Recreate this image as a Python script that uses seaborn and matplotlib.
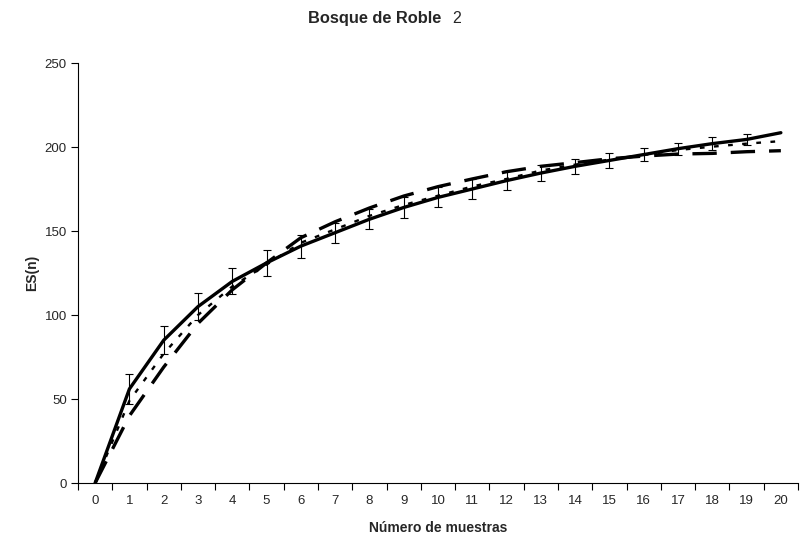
import matplotlib
matplotlib.use("Agg")
import matplotlib.pyplot as plt
import seaborn as sns
import numpy as np
import pandas as pd

# ---- data ----
muestras = list(range(0, 21))
observada = [0, 56, 85, 105, 120, 131, 141, 149, 157, 164, 170, 175, 180, 184.5,
             188.5, 192, 195.5, 199, 202, 204.5, 208.5]
error_obs = [0, 9, 8.3, 7.9, 7.7, 7.6, 6.9, 6.0, 6.1, 6.0, 6.0, 6.0, 5.8, 5.0,
             4.6, 4.5, 4.0, 3.6, 3.7, 3.3, 0]
modelo_punteado = [0, 49, 77, 100, 117, 130, 143, 151, 159, 165.5, 171, 176.5, 181,
                   186, 189.5, 192.5, 195.2, 198.2, 200.2, 202, 203.5]
modelo_discontinuo = [0, 40, 69, 95, 115, 131, 146, 155.5, 163.7, 170.8, 176.4, 181,
                      185.3, 188.5, 190.7, 193, 194.6, 195.8, 196.2, 197.2, 197.8]
y_ticks = [0, 50, 100, 150, 200, 250]

df = pd.DataFrame({"n": muestras, "obs": observada, "err": error_obs,
                   "dot": modelo_punteado, "dash": modelo_discontinuo})

sns.set_style("white")
plt.rcParams["font.family"] = ["Liberation Sans", "DejaVu Sans"]

W, H = 809, 545
fig = plt.figure(figsize=(W / 100, H / 100), dpi=100)
L, R, T, B = 78, 798, 63, 483
ax = fig.add_axes([L / W, 1 - B / H, (R - L) / W, (B - T) / H])

sns.lineplot(data=df, x="n", y="dash", ax=ax, color="black", linewidth=2.4,
             dashes=(7.3, 4.2), solid_capstyle="butt")
sns.lineplot(data=df, x="n", y="dot", ax=ax, color="black", linewidth=1.7,
             dashes=(2.0, 4.0))
sns.lineplot(data=df, x="n", y="obs", ax=ax, color="black", linewidth=2.4)

mask = df["err"] > 0
ax.errorbar(df["n"][mask], df["obs"][mask], yerr=df["err"][mask], fmt="none",
            ecolor="black", elinewidth=0.8, capsize=2.6, capthick=0.8)

ax.set_xlim(-0.5, 20.5)
ax.set_ylim(0, 250)
ax.set_yticks(y_ticks)
ax.set_xticks(muestras)
ax.set_xticks(np.arange(-0.5, 21, 1), minor=True)
ax.tick_params(axis="x", which="major", length=0, pad=9, labelsize=9.5)
ax.tick_params(axis="x", which="minor", length=5, width=0.8, direction="out",
               color="black", bottom=True)
ax.tick_params(axis="y", length=5, width=0.8, direction="out", color="black",
               left=True, labelsize=9.5, pad=3)

for s in ["top", "right"]:
    ax.spines[s].set_visible(False)
for s in ["left", "bottom"]:
    ax.spines[s].set_color("black")
    ax.spines[s].set_linewidth(0.8)

ax.set_xlabel("Número de muestras", fontsize=10, fontweight="bold", labelpad=10)
ax.set_ylabel("ES(n)", fontsize=10, fontweight="bold", labelpad=4)

fig.text(308 / W, 1 - 23 / H, "Bosque de Roble", fontsize=11.8, fontweight="bold",
         ha="left", va="baseline")
fig.text(452 / W, 1 - 23 / H, "2", fontsize=11.5, ha="left", va="baseline")

fig.savefig("out.png", dpi=100)
